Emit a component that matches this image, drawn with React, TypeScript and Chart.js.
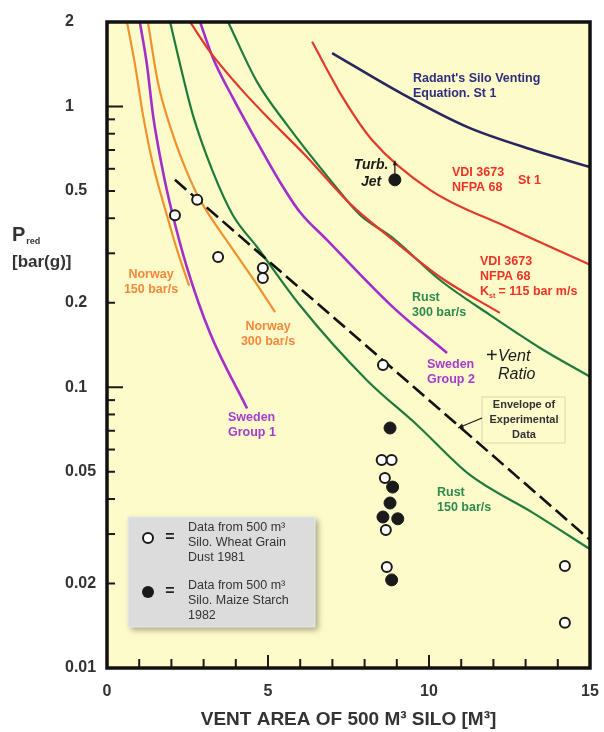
import React, { useEffect, useRef } from "react";
import { Chart, registerables } from "chart.js";

Chart.register(...registerables);

// ---------- data ----------
const xTicks = [0, 5, 10, 15];
const yTicks = [2, 1, 0.5, 0.2, 0.1, 0.05, 0.02, 0.01];

const norway150: number[][] = [[0.62, 2.0], [0.87, 1.41], [1.12, 0.93], [1.43, 0.62], [1.86, 0.41], [2.17, 0.31], [2.55, 0.23]];
const sweden1: number[][] = [[1.02, 2.0], [1.24, 1.41], [1.43, 0.93], [1.74, 0.585], [2.02, 0.42], [2.48, 0.268], [3.2, 0.156], [4.35, 0.084]];
const norway300: number[][] = [[1.27, 2.0], [1.58, 1.22], [2.02, 0.81], [2.48, 0.585], [2.89, 0.465], [3.88, 0.313], [4.63, 0.235], [5.22, 0.185]];
const rust150: number[][] = [[1.96, 2.0], [2.27, 1.41], [2.67, 0.93], [3.29, 0.585], [3.91, 0.41], [4.66, 0.316], [5.99, 0.196], [8.07, 0.106], [9.63, 0.0734], [11.27, 0.0487], [13.23, 0.0357], [15, 0.0265]];
const vdi115: number[][] = [[2.58, 2.0], [3.2, 1.565], [4.13, 1.165], [4.91, 0.934], [6.15, 0.672], [7.55, 0.45], [8.88, 0.335], [10.34, 0.247], [12.2, 0.184]];
const sweden2: number[][] = [[2.89, 2.0], [3.29, 1.49], [3.91, 1.073], [4.66, 0.748], [5.37, 0.539], [5.99, 0.421], [6.83, 0.335], [8.88, 0.193], [10.56, 0.1325]];
const rust300: number[][] = [[3.76, 2.0], [4.66, 1.224], [5.59, 0.86], [6.93, 0.548], [7.86, 0.411], [8.88, 0.34], [10.34, 0.241], [11.89, 0.181], [13.45, 0.138], [15, 0.109]];
const vdiSt1: number[][] = [[6.37, 1.7], [7.33, 1.073], [8.23, 0.76], [10.03, 0.505], [12.42, 0.372], [15, 0.273]];
const radant: number[][] = [[6.99, 1.55], [9.1, 1.12], [11.18, 0.846], [13.23, 0.7], [15, 0.609]];
const envelope: number[][] = [[2.11, 0.548], [15, 0.0286]];

const wheatGrain1981: number[][] = [[2.11, 0.41], [2.8, 0.465], [3.45, 0.291], [4.84, 0.266], [4.84, 0.245], [8.57, 0.12], [8.53, 0.0551], [8.84, 0.0551], [8.63, 0.0475], [8.66, 0.031], [8.69, 0.0229], [14.22, 0.0231], [14.22, 0.0145]];
const maizeStarch1982: number[][] = [[8.94, 0.548], [8.79, 0.0716], [8.87, 0.0441], [8.79, 0.0387], [8.57, 0.0345], [9.03, 0.034], [8.84, 0.0206]];

// ---------- styles ----------
const FONT = '"Liberation Sans", Arial, Helvetica, sans-serif';
const BG = "#fdfbc9";
const ORANGE = "#f2922f";
const ORANGE_T = "#f5883a";
const PURPLE = "#a22fcb";
const PURPLE_T = "#a63ccf";
const GREEN = "#1f7a3c";
const GREEN_T = "#2e8a4f";
const RED = "#e2392a";
const RED_T = "#ee3326";
const NAVY = "#28265f";
const NAVY_T = "#2e2e7e";
const INK = "#1a1a1a";

const toXY = (a: number[][]) => a.map(([x, y]) => ({ x, y }));

type Lbl = { lines: string[]; px: number; py: number; dy: number; color: string; size: number; align: CanvasTextAlign; style?: string; weight?: string };
const labels: Lbl[] = [
  { lines: ["Radant's Silo Venting", "Equation. St 1"], px: 413, py: 79, dy: 15, color: NAVY_T, size: 12.5, align: "left" },
  { lines: ["VDI 3673", "NFPA 68"], px: 452, py: 173, dy: 15, color: RED_T, size: 12.5, align: "left" },
  { lines: ["St 1"], px: 518, py: 181, dy: 15, color: RED_T, size: 12.5, align: "left" },
  { lines: ["VDI 3673", "NFPA 68"], px: 480, py: 262, dy: 15, color: RED_T, size: 12.5, align: "left" },
  { lines: ["Rust", "300 bar/s"], px: 412, py: 298, dy: 15, color: GREEN_T, size: 12.5, align: "left" },
  { lines: ["Sweden", "Group 2"], px: 427, py: 365, dy: 15, color: PURPLE_T, size: 12.5, align: "left" },
  { lines: ["Rust", "150 bar/s"], px: 437, py: 493, dy: 15, color: GREEN_T, size: 12.5, align: "left" },
  { lines: ["Sweden", "Group 1"], px: 228, py: 418, dy: 15, color: PURPLE_T, size: 12.5, align: "left" },
  { lines: ["Norway", "150 bar/s"], px: 151, py: 275, dy: 15, color: ORANGE_T, size: 12.5, align: "center" },
  { lines: ["Norway", "300 bar/s"], px: 268, py: 327, dy: 15, color: ORANGE_T, size: 12.5, align: "center" },
  { lines: ["Turb.", "Jet"], px: 371, py: 165, dy: 17, color: INK, size: 14, align: "center", style: "italic" },
  { lines: ["Ratio"], px: 498, py: 375, dy: 17, color: INK, size: 16, align: "left", style: "italic", weight: "normal" },
  { lines: ["Envelope of", "Experimental", "Data"], px: 524, py: 405, dy: 15, color: "#333", size: 11, align: "center" },
];

function text(ctx: CanvasRenderingContext2D, s: string, x: number, y: number, size: number, color: string, align: CanvasTextAlign = "left", style = "", weight = "bold") {
  ctx.font = `${style} ${weight} ${size}px ${FONT}`;
  ctx.fillStyle = color;
  ctx.textAlign = align;
  ctx.textBaseline = "middle";
  ctx.fillText(s, x, y);
}

function arrow(ctx: CanvasRenderingContext2D, x1: number, y1: number, x2: number, y2: number, head: number) {
  const a = Math.atan2(y2 - y1, x2 - x1);
  ctx.beginPath();
  ctx.moveTo(x1, y1);
  ctx.lineTo(x2, y2);
  ctx.stroke();
  ctx.beginPath();
  ctx.moveTo(x2, y2);
  ctx.lineTo(x2 - head * Math.cos(a - 0.45), y2 - head * Math.sin(a - 0.45));
  ctx.lineTo(x2 - head * Math.cos(a + 0.45), y2 - head * Math.sin(a + 0.45));
  ctx.closePath();
  ctx.fill();
}

const decor = {
  id: "decor",
  beforeDraw(chart: any) {
    const { ctx, chartArea: ca } = chart;
    ctx.save();
    ctx.fillStyle = BG;
    ctx.fillRect(ca.left, ca.top, ca.width, ca.height);
    ctx.restore();
  },
  afterDraw(chart: any) {
    const { ctx, chartArea: ca, scales } = chart;
    const P = (px: number, py: number) => [ca.left + ((px - 107) * ca.width) / 483, ca.top + ((py - 22) * ca.height) / 646];
    ctx.save();

    // inner ticks
    ctx.strokeStyle = INK;
    ctx.lineWidth = 2;
    for (let d = 0.01; d < 1.5; d *= 10) {
      for (let k = 1; k <= 9; k++) {
        const v = d * k;
        if (v > 1.0001) break;
        const y = scales.y.getPixelForValue(v);
        const len = k === 1 ? 16 : 8;
        ctx.beginPath();
        ctx.moveTo(ca.left, y);
        ctx.lineTo(ca.left + len, y);
        ctx.stroke();
      }
    }
    for (let i = 1; i < 15; i++) {
      const x = scales.x.getPixelForValue(i);
      const len = i % 5 === 0 ? 13 : 9;
      ctx.beginPath();
      ctx.moveTo(x, ca.bottom);
      ctx.lineTo(x, ca.bottom - len);
      ctx.stroke();
    }

    // frame
    ctx.lineWidth = 3.5;
    ctx.strokeStyle = "#111";
    ctx.strokeRect(ca.left, ca.top, ca.width, ca.height);

    // curve labels
    for (const l of labels) {
      const [x, y] = P(l.px, l.py);
      l.lines.forEach((s, i) => text(ctx, s, x, y + i * l.dy, l.size, l.color, l.align, l.style || "", l.weight || "bold"));
    }
    // K_st line
    {
      const [x, y] = P(480, 292);
      ctx.font = `bold 12.5px ${FONT}`;
      text(ctx, "K", x, y, 12.5, RED_T);
      const w = ctx.measureText("K").width;
      text(ctx, "st", x + w, y + 4, 7, RED_T);
      text(ctx, " = 115 bar m/s", x + w + 6, y, 12.5, RED_T);
    }
    // +Vent
    {
      const [x, y] = P(486, 356);
      text(ctx, "+", x, y, 20, INK, "left", "", "normal");
      text(ctx, "Vent", x + 12, y + 1, 16, INK, "left", "italic", "normal");
    }
    // Envelope box + arrow
    {
      const [x1, y1] = P(482, 397);
      const [x2, y2] = P(565, 443);
      ctx.strokeStyle = "#d8d6b0";
      ctx.lineWidth = 1;
      ctx.strokeRect(x1, y1, x2 - x1, y2 - y1);
      const [a1, b1] = P(482, 418);
      const [a2, b2] = P(458, 428);
      ctx.strokeStyle = INK;
      ctx.fillStyle = INK;
      ctx.lineWidth = 1.3;
      arrow(ctx, a1, b1, a2, b2, 6);
    }
    // turbulent jet arrow
    {
      const x = scales.x.getPixelForValue(maizeStarch1982[0][0]);
      const y = scales.y.getPixelForValue(maizeStarch1982[0][1]);
      ctx.strokeStyle = INK;
      ctx.fillStyle = INK;
      ctx.lineWidth = 1.3;
      arrow(ctx, x, y - 6, x, y - 19, 5);
    }

    // legend box
    {
      const [x1, y1] = P(128, 517);
      const [x2, y2] = P(315, 627);
      ctx.save();
      ctx.shadowColor = "rgba(0,0,0,0.35)";
      ctx.shadowBlur = 6;
      ctx.shadowOffsetX = 3;
      ctx.shadowOffsetY = 3;
      ctx.fillStyle = "#dcdcdc";
      ctx.fillRect(x1, y1, x2 - x1, y2 - y1);
      ctx.restore();
      ctx.strokeStyle = "#e8e8e8";
      ctx.lineWidth = 1;
      ctx.strokeRect(x1, y1, x2 - x1, y2 - y1);

      const [cx1, cy1] = P(148, 538);
      ctx.beginPath();
      ctx.arc(cx1, cy1, 5, 0, Math.PI * 2);
      ctx.fillStyle = "#fff";
      ctx.fill();
      ctx.lineWidth = 2;
      ctx.strokeStyle = INK;
      ctx.stroke();
      const [cx2, cy2] = P(148, 592);
      ctx.beginPath();
      ctx.arc(cx2, cy2, 6, 0, Math.PI * 2);
      ctx.fillStyle = INK;
      ctx.fill();
      text(ctx, "=", cx1 + 22, cy1, 16, "#222", "center");
      text(ctx, "=", cx2 + 22, cy2, 16, "#222", "center");
      const [tx, ty] = P(188, 528);
      const l1 = ["Data from 500 m³", "Silo. Wheat Grain", "Dust 1981"];
      const l2 = ["Data from 500 m³", "Silo. Maize Starch", "1982"];
      l1.forEach((s, i) => text(ctx, s, tx, ty + i * 15, 12.5, "#333", "left", "", "normal"));
      l2.forEach((s, i) => text(ctx, s, tx, ty + 58 + i * 15, 12.5, "#333", "left", "", "normal"));
    }

    // y-axis title
    {
      const [x, y] = P(12, 235);
      text(ctx, "P", x, y, 20, "#333");
      ctx.font = `bold 20px ${FONT}`;
      const w = ctx.measureText("P").width;
      text(ctx, "red", x + w + 1, y + 7, 9, "#333");
      text(ctx, "[bar(g)]", x, y + 27, 17, "#333");
    }
    ctx.restore();
  },
};

const lineDs = (label: string, data: number[][], color: string, width = 2.2, dash: number[] = []) => ({
  type: "line" as const,
  label,
  data: toXY(data),
  borderColor: color,
  borderWidth: width,
  borderDash: dash,
  pointRadius: 0,
  fill: false,
  cubicInterpolationMode: "monotone" as const,
  order: 2,
});

export default function App() {
  const ref = useRef<HTMLCanvasElement>(null);
  useEffect(() => {
    const chart = new Chart(ref.current as HTMLCanvasElement, {
      type: "line",
      data: {
        datasets: [
          {
            type: "scatter",
            label: "Wheat grain dust 1981",
            data: toXY(wheatGrain1981),
            pointRadius: 5,
            pointBorderWidth: 2,
            pointBackgroundColor: "#ffffff",
            pointBorderColor: INK,
            showLine: false,
            order: 0,
          } as any,
          {
            type: "scatter",
            label: "Maize starch 1982",
            data: toXY(maizeStarch1982),
            pointRadius: 6,
            pointBorderWidth: 1,
            pointBackgroundColor: INK,
            pointBorderColor: INK,
            showLine: false,
            order: 0,
          } as any,
          lineDs("Envelope of experimental data", envelope, "#111", 2.6, [15, 6]),
          lineDs("Norway 150 bar/s", norway150, ORANGE),
          lineDs("Sweden Group 1", sweden1, PURPLE, 2.6),
          lineDs("Norway 300 bar/s", norway300, ORANGE),
          lineDs("Rust 150 bar/s", rust150, GREEN),
          lineDs("VDI 3673 Kst 115", vdi115, RED),
          lineDs("Sweden Group 2", sweden2, PURPLE, 2.6),
          lineDs("Rust 300 bar/s", rust300, GREEN),
          lineDs("VDI 3673 St 1", vdiSt1, RED),
          lineDs("Radant", radant, NAVY, 2.6),
        ],
      },
      options: {
        responsive: false,
        animation: false,
        layout: { padding: { left: 65, right: 14, top: 22, bottom: 0 } },
        plugins: { legend: { display: false }, tooltip: { enabled: false } },
        scales: {
          x: {
            type: "linear",
            min: 0,
            max: 15,
            grid: { display: false, drawTicks: false },
            border: { display: false },
            afterBuildTicks: (s: any) => {
              s.ticks = xTicks.map((v) => ({ value: v }));
            },
            afterFit: (s: any) => {
              s.height = 64;
              s.paddingLeft = 0;
              s.paddingRight = 0;
            },
            ticks: {
              padding: 14,
              color: "#333",
              font: { family: FONT, size: 16, weight: "bold" },
              maxRotation: 0,
              callback: (v: any) => String(v),
            },
            title: {
              display: true,
              text: "VENT AREA OF 500 M³ SILO [M³]",
              color: "#333",
              font: { family: FONT, size: 19, weight: "bold" },
              padding: { top: 0, bottom: 1 },
            },
          },
          y: {
            type: "logarithmic",
            min: 0.01,
            max: 2,
            grid: { display: false, drawTicks: false },
            border: { display: false },
            afterBuildTicks: (s: any) => {
              s.ticks = yTicks.map((v) => ({ value: v }));
            },
            afterFit: (s: any) => {
              s.width = 42;
            },
            ticks: {
              crossAlign: "far",
              color: "#333",
              font: { family: FONT, size: 16, weight: "bold" },
              autoSkip: false,
              callback: (v: any) => String(v),
            },
          },
        },
      },
      plugins: [decor],
    } as any);
    return () => chart.destroy();
  }, []);
  return (
    <canvas
      ref={ref}
      width={604}
      height={732}
      style={{ position: "fixed", left: 0, top: 0, width: 604, height: 732, display: "block" }}
    />
  );
}
